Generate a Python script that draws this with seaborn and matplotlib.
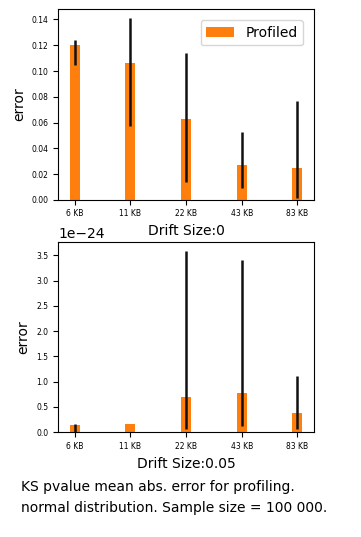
import numpy as np
import matplotlib
matplotlib.use('Agg')
import matplotlib.pyplot as plt
import seaborn as sns

sizes = ['6 KB', '11 KB', '22 KB', '43 KB', '83 KB']

# drift size 0
err0 = [0.120, 0.106, 0.063, 0.027, 0.025]
lo0 = [0.105, 0.057, 0.014, 0.009, 0.001]
hi0 = [0.124, 0.141, 0.114, 0.053, 0.077]

# drift size 0.05 (values in units of 1e-24)
err05 = [0.15, 0.17, 0.70, 0.78, 0.39]
lo05 = [0.0, 0.17, 0.07, 0.13, 0.07]
hi05 = [0.17, 0.17, 3.58, 3.40, 1.11]


def bar_panel(ax, vals, lo, hi, xlabel, scale=1.0, legend=False):
    vals = np.array(vals) * scale
    lo = np.array(lo) * scale
    hi = np.array(hi) * scale
    sns.barplot(x=sizes, y=vals, width=0.18, color='#ff7f0e', saturation=1,
                errorbar=None, label='Profiled', ax=ax)
    pos = np.arange(len(sizes))
    ax.errorbar(pos, vals, yerr=[vals - lo, hi - vals], fmt='none',
                ecolor='#111111', elinewidth=1.8, capsize=0)
    ax.set_xlim(-0.3, 4.3)
    ax.set_ylabel('error', fontsize=10)
    ax.set_xlabel(xlabel, fontsize=10)
    ax.tick_params(axis='both', labelsize=5.5)
    if legend:
        ax.legend(loc='upper right', fontsize=10, borderaxespad=0.8)
    elif ax.get_legend() is not None:
        ax.get_legend().remove()


fig = plt.figure(figsize=(3.61, 5.37), dpi=100)
ax1 = fig.add_axes([0.161, 0.628, 0.709, 0.355])
ax2 = fig.add_axes([0.161, 0.195, 0.709, 0.354])

bar_panel(ax1, err0, lo0, hi0, 'Drift Size:0', legend=True)
bar_panel(ax2, err05, lo05, hi05, 'Drift Size:0.05', scale=1e-24)
ax2.yaxis.get_offset_text().set_fontsize(10)

fig.text(0.057, 0.074, 'KS pvalue mean abs. error for profiling.\nnormal distribution. Sample size = 100 000.',
         fontsize=10, linespacing=1.6, va='center', ha='left')

fig.savefig('out.png', dpi=100)
